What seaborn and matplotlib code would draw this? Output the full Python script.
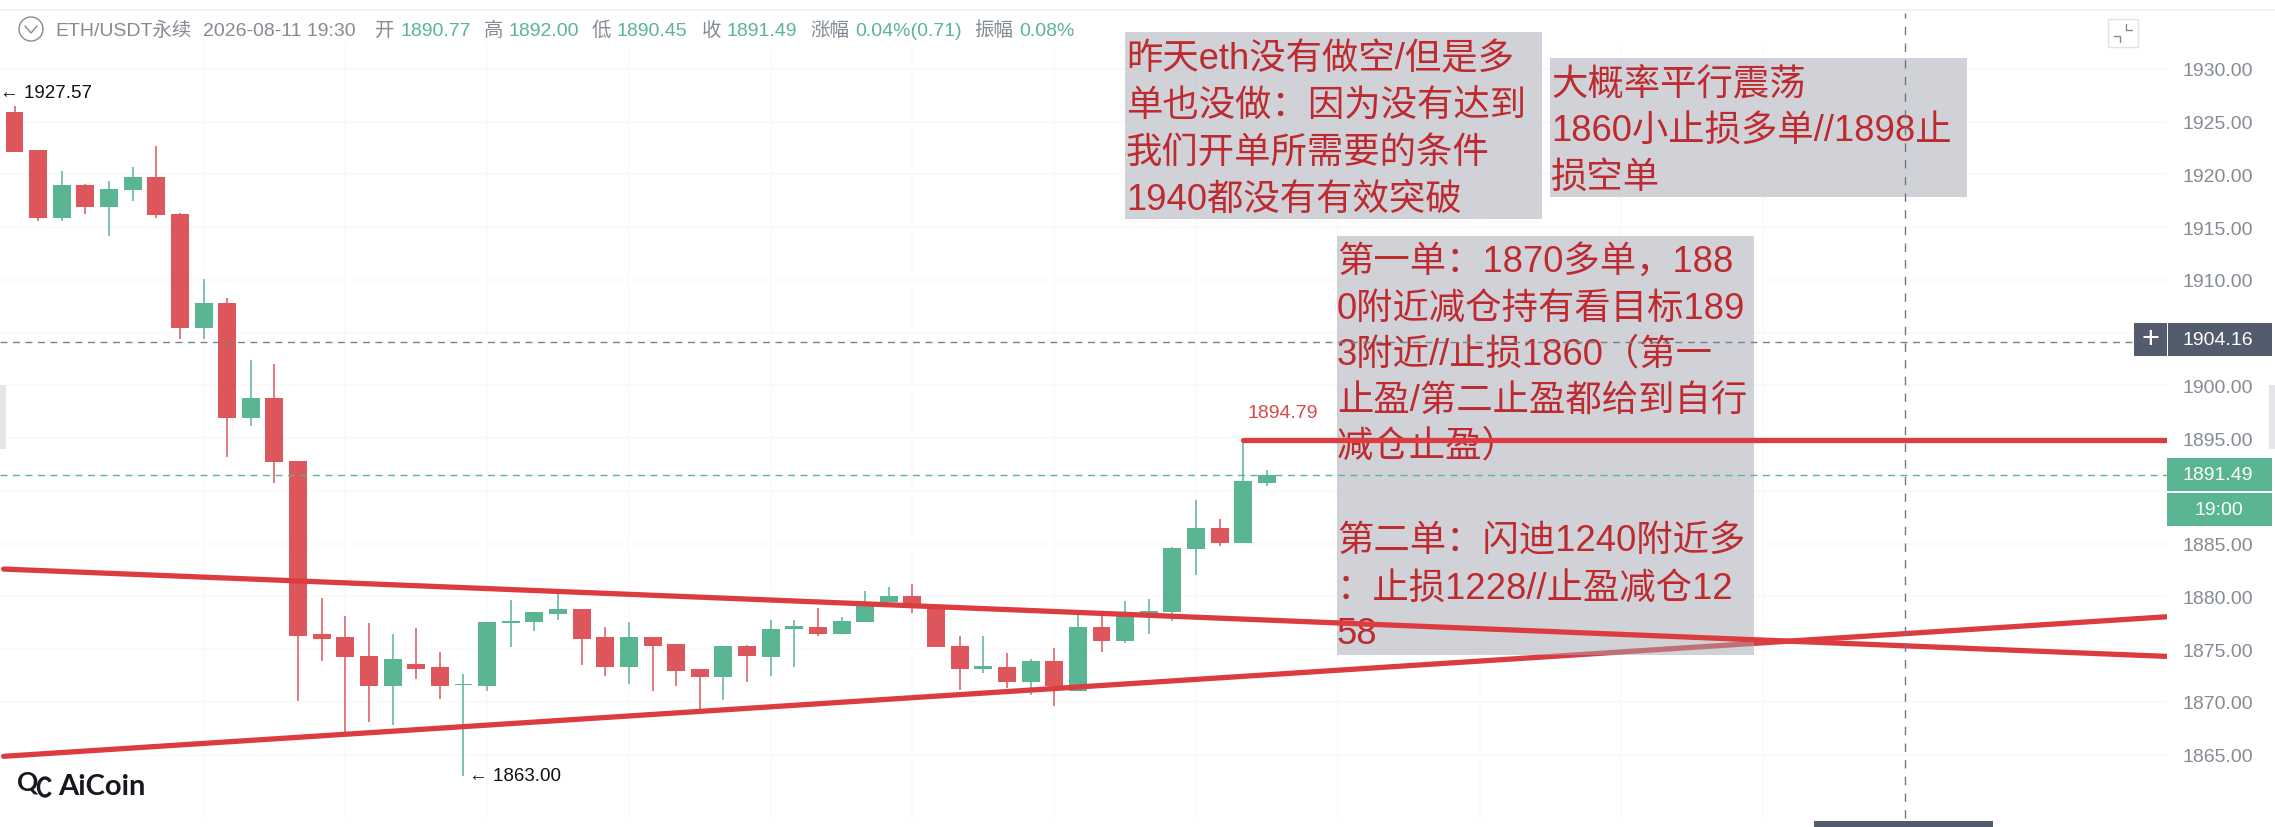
import matplotlib
matplotlib.use("Agg")
import matplotlib.pyplot as plt
from matplotlib.patches import Rectangle, Ellipse, Arc
import numpy as np
import pandas as pd
import seaborn as sns

W, H = 2275, 828

opens = [1925.89,1922.29,1915.84,1919.00,1916.95,1918.53,1919.76,1916.29,1905.45,1907.82,1896.92,1898.81,
         1892.81,1876.44,1876.12,1874.39,1871.54,1873.60,1873.28,1871.58,1871.54,1877.45,1877.61,1878.34,
         1878.81,1876.12,1873.28,1876.12,1875.49,1873.12,1872.33,1875.33,1874.26,1876.91,1877.07,1876.44,
         1877.55,1879.44,1880.07,1878.81,1875.33,1873.15,1873.28,1871.86,1873.91,1871.07,1877.07,1875.81,
         1878.43,1878.56,1884.50,1886.49,1885.10,1890.77]
closes = [1922.16,1915.84,1919.00,1916.95,1918.63,1919.76,1916.16,1905.45,1907.82,1896.92,1898.81,1892.71,
          1876.28,1875.97,1874.26,1871.54,1874.07,1873.12,1871.54,1871.70,1877.55,1877.67,1878.49,1878.81,
          1875.97,1873.28,1876.12,1875.33,1872.97,1872.33,1875.33,1874.39,1876.91,1877.23,1876.44,1877.67,
          1879.13,1880.07,1878.97,1875.18,1873.12,1873.41,1871.86,1873.91,1871.54,1877.07,1875.81,1878.11,
          1878.59,1884.59,1886.49,1885.10,1890.91,1891.49]
highs = [1926.52,1922.29,1920.30,1919.10,1919.38,1920.71,1922.73,1916.32,1910.09,1908.29,1902.42,1902.04,
         1892.81,1879.82,1878.12,1877.48,1876.44,1876.98,1874.77,1872.65,1877.55,1879.66,1878.56,1880.39,
         1878.81,1877.07,1877.61,1876.12,1875.49,1873.12,1875.33,1875.40,1877.80,1877.77,1878.90,1878.02,
         1880.52,1880.86,1881.18,1878.81,1876.28,1876.22,1874.61,1874.07,1875.11,1878.27,1878.18,1879.60,
         1879.76,1884.67,1889.17,1887.34,1894.79,1892.00]
lows = [1922.16,1915.62,1915.62,1916.26,1914.20,1917.46,1915.88,1904.41,1904.41,1893.25,1896.19,1890.75,
        1870.12,1873.85,1867.12,1868.07,1867.85,1872.18,1870.28,1863.00,1871.07,1875.24,1876.69,1877.80,
        1873.50,1872.43,1871.70,1871.07,1871.54,1869.02,1870.18,1871.92,1872.49,1873.34,1876.28,1876.44,
        1877.55,1879.44,1878.40,1875.18,1871.16,1872.74,1871.35,1870.69,1869.65,1871.07,1874.77,1875.59,
        1876.44,1877.70,1882.06,1884.75,1885.10,1890.45]

price_ticks = [1930, 1925, 1920, 1915, 1910, 1900, 1895, 1885, 1880, 1875, 1870, 1865]
grid_prices = [1930, 1925, 1920, 1915, 1910, 1905, 1900, 1895, 1890, 1885, 1880, 1875, 1870, 1865]
grid_bars = [8, 14, 20, 26, 32, 38, 44, 50, 56, 62, 68, 74]

upper_x = [-0.46, 91.09]
upper_y = [1882.60, 1874.32]
lower_x = [-0.46, 91.09]
lower_y = [1864.85, 1878.08]
resist_x = [52, 91.09]
resist_y = [1894.79, 1894.79]
last_price = 1891.49
cross_price = 1904.16
cross_bar = 80

box1_lines = ["昨天eth没有做空/但是多", "单也没做：因为没有达到", "我们开单所需要的条件", "1940都没有有效突破"]
box2_lines = ["大概率平行震荡", "1860小止损多单//1898止", "损空单"]
box3_lines = ["第一单：1870多单，188", "0附近减仓持有看目标189", "3附近//止损1860（第一",
              "止盈/第二止盈都给到自行", "减仓止盈）", "第二单：闪迪1240附近多", "：止损1228//止盈减仓12", "58"]
box1_y = [60, 106, 153, 200]
box2_y = [85, 131, 178]
box3_y = [262, 309, 355, 402, 447, 542, 589, 635]

RED, GREEN = "#dd565b", "#59b592"
LINE_RED = "#dc3c40"
TXT_RED = "#bd2a30"
GRAY = "#858b94"
SLATE = "#535c6c"
BOX = "#a3a7b1"

sns.set_theme(style="white")
FONTS = ["Liberation Sans", "Noto Sans CJK SC", "DejaVu Sans"]
plt.rcParams["font.family"] = FONTS

fig = plt.figure(figsize=(W / 100, H / 100), dpi=100, facecolor="white")
ax = fig.add_axes([0, 0, 2167 / W, 1])

df = pd.DataFrame({"bar": np.arange(len(opens)), "o": opens, "c": closes, "h": highs, "l": lows})
df["base"] = df[["o", "c"]].min(axis=1)
df["size"] = (df["o"] - df["c"]).abs()
df["up"] = df["c"] >= df["o"]

for is_up, color in ((False, RED), (True, GREEN)):
    part = df[df["up"] == is_up]
    ax.vlines(part["bar"], part["l"], part["h"], color=color, lw=1.1, zorder=2)
    sns.barplot(data=part, x="bar", y="size", bottom=part["base"].to_numpy(), native_scale=True,
                color=color, saturation=1, width=0.76, errorbar=None, linewidth=0, ax=ax, zorder=2.2)

ax.set_xlim(-0.614, 91.09)
ax.set_ylim(1858.15, 1936.635)
ax.set_xlabel("")
ax.set_ylabel("")
for s in ax.spines.values():
    s.set_visible(False)

ax.vlines(grid_bars, 1858.9, 1932.5, color="#fbfbfc", lw=1.2, zorder=0.5)
ax.hlines(grid_prices, -0.614, 91.09, color="#f9f9fa", lw=1.2, zorder=0.5)
ax.set_xticks([])
ax.yaxis.tick_right()
ax.set_yticks(price_ticks)
ax.set_yticklabels([f"{p:.2f}" for p in price_ticks])
ax.tick_params(axis="y", length=0, pad=11.5, labelsize=14, labelcolor=GRAY)


def fx(x):
    return x / W


def fy(y):
    return 1 - y / H


def box(x0, y0, x1, y1, color, z=3, alpha=1.0):
    ax.add_patch(Rectangle((fx(x0), fy(y1)), (x1 - x0) / W, (y1 - y0) / H, transform=fig.transFigure,
                           facecolor=color, edgecolor="none", alpha=alpha, zorder=z, clip_on=False))


def label(x, y, s, color=GRAY, size=14, z=12, ha="left", **kw):
    ax.text(fx(x), fy(y), s, transform=fig.transFigure, color=color, fontsize=size, ha=ha, va="center",
            zorder=z, clip_on=False, **kw)


# lower trend line passes under the note box, the other lines pass over it
sns.lineplot(x=lower_x, y=lower_y, color=LINE_RED, lw=3.8, ax=ax, zorder=2.6, estimator=None, sort=False)
box(1125, 33, 1542, 220, BOX, alpha=0.5)
box(1550, 59, 1967, 198, BOX, alpha=0.5)
box(1337, 237, 1754, 656, BOX, alpha=0.5)

for lines, ys, x in ((box1_lines, box1_y, 1126), (box2_lines, box2_y, 1551), (box3_lines, box3_y, 1337)):
    for s, y in zip(lines, ys):
        label(x, y, s, color=TXT_RED, size=26.2, z=4)

sns.lineplot(x=upper_x, y=upper_y, color=LINE_RED, lw=3.8, ax=ax, zorder=5, estimator=None, sort=False)
sns.lineplot(x=resist_x, y=resist_y, color=LINE_RED, lw=3.8, ax=ax, zorder=5, estimator=None, sort=False)
ax.axhline(cross_price, color="#79808c", lw=1, dashes=(5, 4), zorder=5)
ax.axhline(last_price, color="#59b592", lw=1, dashes=(5, 4), zorder=5)
ax.vlines([cross_bar], 1859.0, 1935.3, color="#6f7682", lw=1, linestyles=[(0, (6, 6))], zorder=5)

# chart annotations
ax.annotate("← 1927.57", xy=(-0.614, 1927.57), xytext=(0, 1.5), textcoords="offset points", color="#111111",
            fontsize=13.5, va="center", annotation_clip=False, zorder=12)
ax.annotate("← 1863.00", xy=(19, 1863.00), xytext=(4, 0.5), textcoords="offset points", color="#111111",
            fontsize=13.5, va="center", zorder=12)
ax.annotate("1894.79", xy=(52, 1894.79), xytext=(3, 20), textcoords="offset points", color="#d8484c",
            fontsize=14, va="center", zorder=12)

# price tags
box(2134, 324, 2167, 357, SLATE, z=10)
box(2168, 324, 2272, 357, SLATE, z=10)
label(2150.5, 340, "+", color="white", size=22, ha="center")
label(2183, 340.5, f"{cross_price:.2f}", color="white")
box(2167, 459, 2272, 492, GREEN, z=10)
box(2167, 494, 2272, 527, GREEN, z=10)
label(2183, 476, f"{last_price:.2f}", color="white")
label(2219, 511, "19:00", color="white", ha="center")

# header
header = [(55, "ETH/USDT永续", GRAY), (203, "2026-08-11 19:30", GRAY), (375, "开", GRAY), (400, "1890.77", GREEN),
          (484, "高", GRAY), (509, "1892.00", GREEN), (592, "低", GRAY), (617, "1890.45", GREEN),
          (702, "收", GRAY), (726, "1891.49", GREEN), (810, "涨幅", GRAY), (855, "0.04%(0.71)", GREEN),
          (974, "振幅", GRAY), (1019, "0.08%", GREEN)]
for x, s, c in header:
    label(x, 31, s, color=c)
fig.add_artist(plt.Line2D([fx(25), fx(31), fx(37)], [fy(27), fy(34), fy(27)], color=GRAY, lw=1))
fig.add_artist(Ellipse((fx(31), fy(30)), 24 / W, 24 / H, transform=fig.transFigure,
                       facecolor="none", edgecolor=GRAY, lw=1))
fig.add_artist(plt.Line2D([0, 1], [fy(11), fy(11)], color="#f0f0f1", lw=1.2))

# fullscreen icon
fig.add_artist(Rectangle((fx(2108), fy(48)), 30 / W, 28 / H, transform=fig.transFigure,
                         facecolor="white", edgecolor="#e2e3e6", lw=1))
fig.add_artist(plt.Line2D([fx(2126), fx(2126), fx(2132)], [fy(25), fy(31), fy(31)], color=GRAY, lw=1))
fig.add_artist(plt.Line2D([fx(2114), fx(2120), fx(2120)], [fy(37), fy(37), fy(43)], color=GRAY, lw=1))

# side handles and bottom scrap
fig.add_artist(Rectangle((0, fy(450)), 6 / W, 64 / H, transform=fig.transFigure, facecolor="#e4e5e8", edgecolor="none"))
fig.add_artist(Rectangle((fx(2269), fy(450)), 6 / W, 64 / H, transform=fig.transFigure, facecolor="#e4e5e8", edgecolor="none"))
fig.add_artist(Rectangle((fx(1814), 0), 179 / W, 6 / H, transform=fig.transFigure, facecolor=SLATE, edgecolor="none"))

# logo
fig.text(fx(17), fy(783), "Q", color="#15181e", fontsize=19, fontweight="bold", va="center", family="Lato")
fig.add_artist(Arc((fx(45), fy(788)), 13 / W, 18 / H, theta1=70, theta2=290, transform=fig.transFigure,
                   color="#15181e", lw=2.4))
fig.text(fx(58), fy(787), "AiCoin", color="#15181e", fontsize=21, fontweight="bold", va="center", family="Lato")

fig.savefig("out.png", dpi=100)
